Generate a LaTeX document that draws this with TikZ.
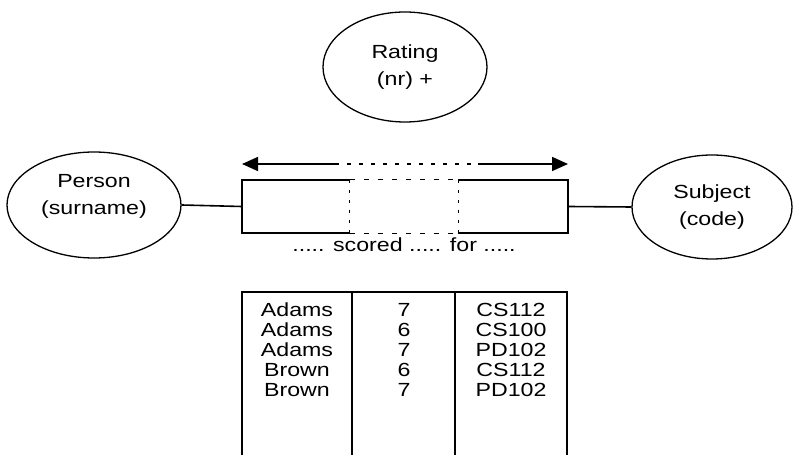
\documentclass[tikz,border=0pt]{standalone}
\usepackage{fontspec}
\setmainfont[FakeStretch=1.22]{Liberation Sans}
\usetikzlibrary{shapes}
\usetikzlibrary{arrows.meta}

\begin{document}
\begin{tikzpicture}[x=1pt,y=1pt,font=\fontsize{19}{20}\selectfont]
\tikzstyle{lien}=[line width=1.6pt]
\tikzset{objet/.style={ellipse,draw,line width=1.3pt,inner sep=0pt,align=center,
  font=\fontsize{19}{27}\selectfont,minimum height=#1},
objet/.default={106pt},
role/.style={draw=none,minimum width=108pt,minimum height=53pt,inner sep=0pt}}
\useasboundingbox (0,0) rectangle (793,455);
% les trois objets
\node [objet=110pt,minimum width=164pt] (rating) at (405,388) {Rating\\(nr) +};
\node [objet,minimum width=174pt] (person) at (94,250) {Person\\(surname)\\[-6pt]};
\node [objet=104pt,minimum width=160pt] (subject) at (712,248) {Subject\\(code)};
% le fait a trois roles
\node [role] (r1) at (296,248.5) {};
\node [role] (r2) at (404,248.5) {};
\node [role,minimum width=110pt] (r3) at (513,248.5) {};
\draw [lien] (r1.north east) -- (r1.north west) -- (r1.south west) -- (r1.south east);
\draw [lien] (r3.north west) -- (r3.north east) -- (r3.south east) -- (r3.south west);
\draw [line width=1.2pt,dash pattern=on 5pt off 9pt] (r2.north west) -- (r2.north east)
  (r2.south west) -- (r2.south east);
\draw [line width=1.2pt,dash pattern=on 3pt off 7pt] (r2.north west) -- (r2.south west)
  (r2.north east) -- (r2.south east);
\draw [lien] (person.east) -- (r1.west);
\draw [lien] (r3.east) -- (subject.west);
% contrainte d'unicite
\coordinate (ug) at (242,291);
\coordinate (ud) at (568,291);
\coordinate (m1) at (335,291);
\coordinate (m2) at (478,291);
\draw [lien,{Triangle[length=16pt,width=14pt]}-] (ug) -- (m1);
\draw [line width=1.2pt,dash pattern=on 4pt off 8pt] (m1) -- (m2);
\draw [lien,-{Triangle[length=16pt,width=14pt]}] (m2) -- (ud);
\node (phrase) at (404,210) {..... scored ..... for .....};
% la table
\draw [lien] (242,0) -- (242,163) -- (567,163) -- (567,0);
\draw [lien] (352,0) -- (352,163);
\draw [lien] (455,0) -- (455,163);
\foreach \nom/\note/\code [count=\i] in {Adams/7/CS112,Adams/6/CS100,Adams/7/PD102,Brown/6/CS112,Brown/7/PD102}
{
\node (nom\i) at (297,165-20*\i) {\nom};
\node (note\i) at (404,165-20*\i) {\note};
\node (code\i) at (511,165-20*\i) {\code};
}
\end{tikzpicture}
\end{document}
